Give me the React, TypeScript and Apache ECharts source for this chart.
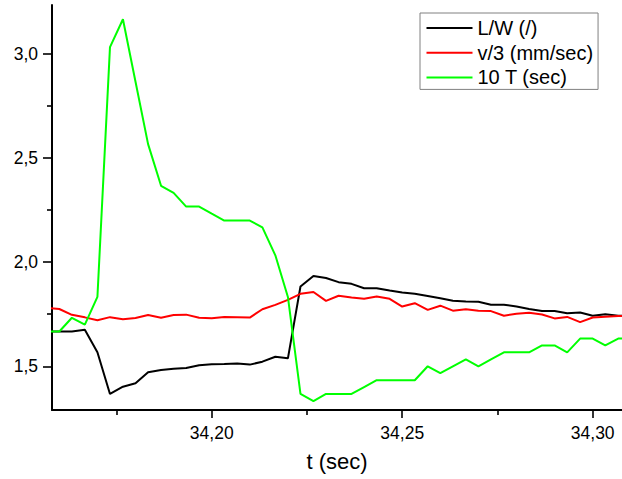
import React, { useEffect, useRef } from "react";
import * as echarts from "echarts";

// Sample times (s), one frame every 1/300 s
const times = [
  34.1567, 34.16, 34.1633, 34.1667, 34.17, 34.1733, 34.1767, 34.18, 34.1833, 34.1867,
  34.19, 34.1933, 34.1967, 34.2, 34.2033, 34.2067, 34.21, 34.2133, 34.2167, 34.22,
  34.2233, 34.2267, 34.23, 34.2333, 34.2367, 34.24, 34.2433, 34.2467, 34.25, 34.2533,
  34.2567, 34.26, 34.2633, 34.2667, 34.27, 34.2733, 34.2767, 34.28, 34.2833, 34.2867,
  34.29, 34.2933, 34.2967, 34.3, 34.3033, 34.3067, 34.31,
];

// L/W ratio (dimensionless)
const lengthWidth = [
  1.667, 1.667, 1.667, 1.675, 1.567, 1.367, 1.402, 1.418, 1.471, 1.482,
  1.488, 1.492, 1.505, 1.51, 1.511, 1.513, 1.508, 1.522, 1.546, 1.538,
  1.883, 1.934, 1.924, 1.904, 1.896, 1.875, 1.875, 1.864, 1.854, 1.848,
  1.838, 1.827, 1.815, 1.811, 1.81, 1.796, 1.796, 1.787, 1.775, 1.765,
  1.765, 1.755, 1.758, 1.743, 1.75, 1.743, 1.74,
];

// Velocity / 3 (mm/sec)
const velocity = [
  1.78, 1.775, 1.747, 1.735, 1.721, 1.736, 1.726, 1.732, 1.746, 1.733,
  1.746, 1.748, 1.733, 1.731, 1.737, 1.736, 1.734, 1.774, 1.795, 1.819,
  1.848, 1.857, 1.814, 1.839, 1.83, 1.824, 1.835, 1.824, 1.787, 1.803,
  1.771, 1.791, 1.767, 1.774, 1.767, 1.765, 1.743, 1.752, 1.757, 1.749,
  1.73, 1.737, 1.712, 1.734, 1.738, 1.742, 1.742,
];

// 10 x period (sec)
const period = [
  1.667, 1.667, 1.733, 1.7, 1.833, 3.033, 3.167, 2.867, 2.567, 2.367,
  2.333, 2.267, 2.267, 2.233, 2.2, 2.2, 2.2, 2.167, 2.033, 1.833,
  1.367, 1.333, 1.367, 1.367, 1.367, 1.4, 1.433, 1.433, 1.433, 1.433,
  1.5, 1.467, 1.5, 1.533, 1.5, 1.533, 1.567, 1.567, 1.567, 1.6,
  1.6, 1.567, 1.633, 1.633, 1.6, 1.633, 1.633,
];

const xMajorTicks = [34.2, 34.25, 34.3];
const xMinorTicks = [34.175, 34.225, 34.275];
const yMajorTicks = [1.5, 2.0, 2.5, 3.0];
const yMinorTicks = [1.75, 2.25, 2.75];

const seriesNames = ["L/W (/)", "v/3 (mm/sec)", "10 T (sec)"];
const seriesColors = ["#000000", "#ff0000", "#00ff00"];

const FONT = "'Liberation Sans', Arial, sans-serif";
const X_MIN = 34.15808;
const X_MAX = 34.30769;
const Y_MIN = 1.2899;
const Y_MAX = 3.2356;

const pairs = (ys: number[]) => times.map((t, i) => [t, ys[i]]);

export default function App() {
  const ref = useRef<HTMLDivElement>(null);

  useEffect(() => {
    if (!ref.current) return;
    const chart = echarts.init(ref.current, null, { renderer: "svg" });

    const axisText = { color: "#000", fontFamily: FONT, fontSize: 17.5 };

    chart.setOption({
      animation: false,
      backgroundColor: "#ffffff",
      grid: { left: 52, right: 0, top: 5, bottom: 69, containLabel: false },
      legend: {
        orient: "vertical",
        left: 420,
        top: 13,
        padding: [5, 5, 2, 6.5],
        itemGap: 4.7,
        itemWidth: 46,
        itemHeight: 2,
        icon: "rect",
        borderColor: "#808080",
        borderWidth: 1,
        backgroundColor: "#ffffff",
        textStyle: { color: "#000", fontFamily: FONT, fontSize: 20 },
        data: seriesNames,
      },
      xAxis: [
        {
          type: "value",
          min: X_MIN,
          max: X_MAX,
          position: "bottom",
          name: "t (sec)",
          nameLocation: "middle",
          nameGap: 51,
          nameTextStyle: {
            color: "#000",
            fontFamily: FONT,
            fontSize: 22,
            verticalAlign: "middle",
          },
          splitLine: { show: false },
          axisLine: { show: true, onZero: false, lineStyle: { color: "#000", width: 2 } },
          axisTick: {
            show: true,
            inside: false,
            length: 8,
            customValues: xMajorTicks,
            lineStyle: { color: "#000", width: 1.6 },
          },
          axisLabel: {
            ...axisText,
            margin: 14,
            customValues: xMajorTicks,
            formatter: (v: number) => v.toFixed(2).replace(".", ","),
          },
        },
        {
          type: "value",
          min: X_MIN,
          max: X_MAX,
          position: "bottom",
          splitLine: { show: false },
          axisLine: { show: false, onZero: false },
          axisLabel: { show: false },
          axisTick: {
            show: true,
            inside: false,
            length: 5,
            customValues: xMinorTicks,
            lineStyle: { color: "#000", width: 1.6 },
          },
        },
      ],
      yAxis: [
        {
          type: "value",
          min: Y_MIN,
          max: Y_MAX,
          position: "left",
          splitLine: { show: false },
          axisLine: { show: true, onZero: false, lineStyle: { color: "#000", width: 2 } },
          axisTick: {
            show: true,
            inside: false,
            length: 9,
            customValues: yMajorTicks,
            lineStyle: { color: "#000", width: 1.6 },
          },
          axisLabel: {
            ...axisText,
            margin: 14,
            customValues: yMajorTicks,
            formatter: (v: number) => v.toFixed(1).replace(".", ","),
          },
        },
        {
          type: "value",
          min: Y_MIN,
          max: Y_MAX,
          position: "left",
          splitLine: { show: false },
          axisLine: { show: false, onZero: false },
          axisLabel: { show: false },
          axisTick: {
            show: true,
            inside: false,
            length: 5,
            customValues: yMinorTicks,
            lineStyle: { color: "#000", width: 1.6 },
          },
        },
      ],
      series: [lengthWidth, velocity, period].map((ys, i) => ({
        name: seriesNames[i],
        type: "line",
        xAxisIndex: 0,
        yAxisIndex: 0,
        data: pairs(ys),
        showSymbol: false,
        symbol: "none",
        clip: true,
        color: seriesColors[i],
        lineStyle: { color: seriesColors[i], width: 2 },
        emphasis: { disabled: true },
      })),
    });

    return () => chart.dispose();
  }, []);

  return (
    <div
      ref={ref}
      style={{ position: "fixed", left: 0, top: 0, width: 622, height: 479, background: "#fff" }}
    />
  );
}
